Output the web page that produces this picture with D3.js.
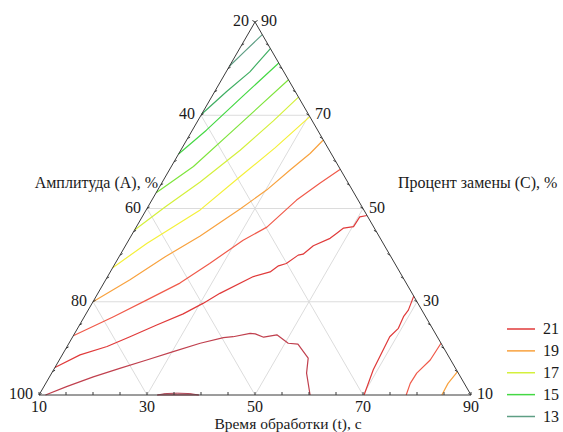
<!DOCTYPE html>
<html><head><meta charset="utf-8">
<script src="https://cdn.jsdelivr.net/npm/d3@7"></script>
<style>
body{margin:0;background:#fff}
svg{display:block}
text{font-family:"Liberation Serif","Times New Roman",serif;font-size:16px;fill:#1a1a1a}
</style>
</head><body>
<svg id="c" width="563" height="432"></svg>
<script>
// ---- axis / tick data ----
const tTicks = [10, 30, 50, 70, 90];      // bottom: Время обработки (t), c
const aTicks = [20, 40, 60, 80, 100];     // left: Амплитуда (А), %
const cTicks = [10, 30, 50, 70, 90];      // right: Процент замены (С), %
const gridT = [30, 50, 70];
const gridA = [40, 60, 80];
const gridC = [30, 50, 70];
const minorStep = 5;

// ---- contour levels ----
const levels = [13, 14, 15, 16, 17, 18, 19, 20, 21, 22, 23];
const levelColors = ["#5e9e84", "#3fae62", "#44d844", "#7ee43c", "#d4f03c", "#f4f03a",
                     "#f8a23e", "#f05a4a", "#e03a3a", "#c0404e", "#b04858"];
const legendLevels = [21, 19, 17, 15, 13];

// contour polylines as [t, C] pairs (A = 120 - t - C)
const line13  = [[10,80.5],[11.3,83.8],[12.7,87.3]];
const line14  = [[10,70.2],[12.2,75.1],[14.4,79.3],[15.7,84.3]];
const line15  = [[10,61.7],[12.6,66.8],[15.7,74.1],[18.8,81.2]];
const line16  = [[10,53.4],[14.1,59.0],[17.6,66.8],[19.9,72.0],[22.4,77.6]];
const line17  = [[10,45.4],[13.2,50.3],[17.0,55.7],[21.0,62.5],[24.0,68.8],[26.1,73.9]];
const line18  = [[10,37.3],[13.7,42.5],[20.0,49.7],[23.8,56.8],[27.2,63.0],[30.3,69.7]];
const line19a = [[10,30],[14.5,34.7],[18.5,39.6],[22.8,44.1],[27.3,49.9],[30.2,54.0],[32.4,58.3],[34.3,61.8],[35.3,64.7]];
const line19b = [[85.0,15.0],[84.5,12.5],[84.6,10]];
const line20a = [[10,22.7],[15.4,26.8],[19.8,30.4],[24.1,34.0],[27.5,38.2],[31.2,43.2],[34.2,46.0],[36.8,51.8],[39.3,55.4],[41.6,58.4]];
const line20b = [[78.9,21.1],[78.7,17.5],[77.6,14.7],[77.5,12.5],[78.0,10]];
const line21a = [[10,15.9],[13.3,18.6],[17.4,20.4],[20.6,22.5],[24.3,25.0],[28.0,27.4],[30.6,29.7],[32.6,31.8],[37.0,35.4],[39.6,36.4],[40.5,37.7],[41.7,38.2],[43.0,40.0],[43.8,40.2],[44.8,42.0],[47.1,43.6],[47.8,44.7],[48.5,45.8],[50.2,46.1],[50.3,48.2],[51.5,48.5]];
const line21b = [[68.8,31.2],[69.3,28.2],[69.1,26.8],[69.4,24.3],[68.7,22.5],[68.9,19.7],[69.2,15.4],[70.2,10]];
const line22  = [[11.2,10],[14.2,11.8],[18.1,13.9],[22.1,15.7],[26.2,17.5],[30.2,19.3],[34.3,21.1],[38.0,22.3],[39.7,22.5],[42.5,23.2],[43.5,23.1],[45.4,22.4],[47.6,22.9],[50.6,21.1],[52.5,20.9],[55.9,17.9],[57.2,14.7],[60.2,10]];
const line23  = [[31.9,10],[33.2,10.3],[35.4,10.4],[37.8,10.3],[39.6,10]];

const contours = [
  {level:13, pts:line13}, {level:14, pts:line14}, {level:15, pts:line15},
  {level:16, pts:line16}, {level:17, pts:line17}, {level:18, pts:line18},
  {level:19, pts:line19a}, {level:19, pts:line19b},
  {level:20, pts:line20a}, {level:20, pts:line20b},
  {level:21, pts:line21a}, {level:21, pts:line21b},
  {level:22, pts:line22}
];
const blobs = [{level:23, pts:line23}];

// ---- scales ----
const color = d3.scaleOrdinal().domain(levels).range(levelColors);
const fT = d3.scaleLinear().domain([10, 90]).range([0, 1]);
const fC = d3.scaleLinear().domain([10, 90]).range([0, 1]);
const xS = d3.scaleLinear().domain([0, 1]).range([39, 471]);
const yS = d3.scaleLinear().domain([0, 1]).range([395, 22]);
function P(t, c) { const ft = fT(t), fc = fC(c); return [xS(ft + fc / 2), yS(fc)]; }

const svg = d3.select("#c");
const line = d3.line().x(d => P(d[0], d[1])[0]).y(d => P(d[0], d[1])[1]);

// ---- grid ----
const gG = svg.append("g").attr("stroke", "#dcdcdc").attr("stroke-width", 1).attr("fill", "none");
gridC.forEach(c => gG.append("path").attr("d", line([[10, c], [100 - c, c]])));
gridT.forEach(t => gG.append("path").attr("d", line([[t, 10], [t, 100 - t]])));
gridA.forEach(a => gG.append("path").attr("d", line([[10, 110 - a], [110 - a, 10]])));

// ---- contours ----
const cG = svg.append("g").attr("fill", "none").attr("stroke-width", 1.2).attr("stroke-linejoin", "round");
contours.forEach(c => cG.append("path").attr("d", line(c.pts)).attr("stroke", color(c.level)));
blobs.forEach(b => svg.append("path").attr("d", line(b.pts) + "Z")
  .attr("fill", color(b.level)).attr("fill-opacity", 0.55)
  .attr("stroke", color(b.level)).attr("stroke-width", 1));

// ---- triangle frame ----
svg.append("path").attr("d", line([[10, 90], [10, 10], [90, 10]]) + "Z")
  .attr("fill", "none").attr("stroke", "#3a3a3a").attr("stroke-width", 1);

// ---- ticks ----
const tk = svg.append("g").attr("stroke", "#3a3a3a").attr("stroke-width", 1);
const tl = 3;
for (let v = 10; v <= 90; v += minorStep) {
  const b = P(v, 10);
  tk.append("line").attr("x1", b[0]).attr("y1", b[1]).attr("x2", b[0]).attr("y2", b[1] - tl);
}
for (let a = 20; a <= 100; a += minorStep) {
  const p = P(10, 110 - a);
  tk.append("line").attr("x1", p[0]).attr("y1", p[1]).attr("x2", p[0] + tl * 0.866).attr("y2", p[1] - tl * 0.5);
}
for (let c = 10; c <= 90; c += minorStep) {
  const p = P(100 - c, c);
  tk.append("line").attr("x1", p[0]).attr("y1", p[1]).attr("x2", p[0] - tl * 0.866).attr("y2", p[1] - tl * 0.5);
}

// ---- tick labels ----
const lab = svg.append("g");
tTicks.forEach(t => { const p = P(t, 10);
  lab.append("text").attr("x", p[0]).attr("y", 412).attr("text-anchor", "middle").text(t); });
aTicks.forEach(a => { const p = P(10, 110 - a);
  lab.append("text").attr("x", p[0] - 6).attr("y", p[1] + 4).attr("text-anchor", "end").text(a); });
cTicks.forEach(c => { const p = P(100 - c, c);
  lab.append("text").attr("x", p[0] + 6).attr("y", p[1] + 4).attr("text-anchor", "start").text(c); });

// ---- axis titles ----
svg.append("text").attr("x", 158).attr("y", 188).attr("text-anchor", "end").text("Амплитуда (А), %");
svg.append("text").attr("x", 398).attr("y", 188).attr("text-anchor", "start").text("Процент замены (С), %");
svg.append("text").attr("x", 288).attr("y", 429.3).attr("text-anchor", "middle")
  .style("font-size", "15.5px").text("Время обработки (t), с");

// ---- legend ----
const lg = svg.append("g");
const ly = d3.scalePoint().domain(legendLevels).range([329, 416.5]);
legendLevels.forEach(l => {
  lg.append("line").attr("x1", 507).attr("x2", 535).attr("y1", ly(l)).attr("y2", ly(l))
    .attr("stroke", color(l)).attr("stroke-width", 1.5);
  lg.append("text").attr("x", 543).attr("y", ly(l) + 5).text(l);
});
</script>
</body></html>
